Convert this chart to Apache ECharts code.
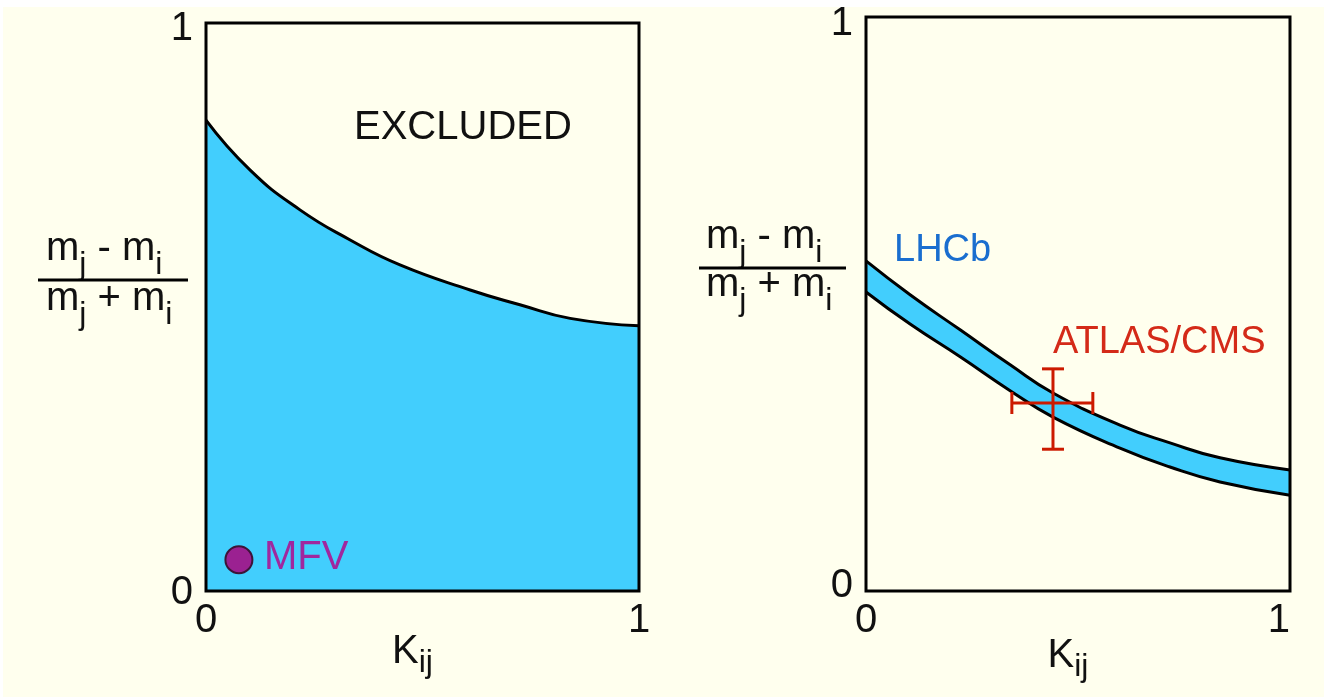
<!DOCTYPE html>
<html>
<head>
<meta charset="utf-8">
<script src="https://cdn.jsdelivr.net/npm/echarts@6/dist/echarts.min.js"></script>
<style>
  html, body { margin: 0; padding: 0; background: #ffffff; }
  #chart { width: 1324px; height: 697px; }
</style>
</head>
<body>
<div id="chart"></div>
<script>
// Left panel: upper bound on the mass splitting as a function of K_ij
const boundK = [0, 0.102, 0.217, 0.333, 0.448, 0.610, 0.725, 0.841, 1];
const boundR = [0.829, 0.741, 0.671, 0.618, 0.574, 0.530, 0.504, 0.480, 0.467];
// Minimal flavour violation point
const mfvPoint = [0.076, 0.055];

// Right panel: LHCb allowed band (upper and lower edges)
const bandK = [0, 0.104, 0.222, 0.340, 0.441, 0.599, 0.717, 0.835, 1];
const bandUpper = [0.575, 0.516, 0.455, 0.394, 0.345, 0.289, 0.258, 0.232, 0.211];
const bandLower = [0.521, 0.465, 0.408, 0.349, 0.303, 0.249, 0.216, 0.190, 0.167];

// ATLAS/CMS measurement: [K, ratio, K low, K high, ratio low, ratio high]
const atlasCms = [0.441, 0.3275, 0.344, 0.535, 0.247, 0.387];

// Tick labels on every axis
const axisTicks = [0, 1];

const FONT = "'Liberation Sans', Arial, Helvetica, sans-serif";
const CYAN = '#42CEFD';
const PAPER = '#FFFFEE';
const INK = '#111111';

const zip = (a, b) => a.map((v, i) => [v, b[i]]);

// Rich-text styles for m_j, m_i and K_ij
const richFrac = {
  m: { fontSize: 40, lineHeight: 46, fontFamily: FONT, fill: INK },
  s: { fontSize: 32, lineHeight: 32, padding: [32, 0, 0, 0], fontFamily: FONT, fill: INK }
};
const richK = {
  k: { fontSize: 40, lineHeight: 46, fontFamily: FONT, color: INK },
  s: { fontSize: 32, lineHeight: 32, padding: [22, 0, 0, 0], fontFamily: FONT, color: INK }
};

function xAxisFor(grid, gap, labelExtra) {
  return {
    gridIndex: grid, type: 'value',
    min: axisTicks[0], max: axisTicks[axisTicks.length - 1], interval: 1,
    axisLine: { show: false }, axisTick: { show: false }, splitLine: { show: false },
    axisLabel: Object.assign({ fontSize: 40, fontFamily: FONT, color: INK, margin: 10 }, labelExtra || {}),
    name: '{k|K}{s|ij}', nameLocation: 'middle', nameGap: gap, nameMoveOverlap: false,
    nameTextStyle: { rich: richK, padding: [0, 20, 0, 0] }
  };
}
// y tick labels: separate nudges for the bottom and the top label
function yAxisFor(grid, padLo, padHi) {
  const tickStyle = { fontSize: 40, fontFamily: FONT, color: INK, lineHeight: 40 };
  return {
    gridIndex: grid, type: 'value',
    min: axisTicks[0], max: axisTicks[axisTicks.length - 1], interval: 1,
    axisLine: { show: false }, axisTick: { show: false }, splitLine: { show: false },
    axisLabel: {
      margin: 13,
      formatter: v => (v === axisTicks[axisTicks.length - 1] ? '{hi|' + v + '}' : '{lo|' + v + '}'),
      rich: {
        lo: Object.assign({ padding: padLo }, tickStyle),
        hi: Object.assign({ padding: padHi }, tickStyle)
      }
    }
  };
}

function renderErrorBar(params, api) {
  const c = api.coord([api.value(0), api.value(1)]);
  const xl = api.coord([api.value(2), api.value(1)]);
  const xh = api.coord([api.value(3), api.value(1)]);
  const yl = api.coord([api.value(0), api.value(4)]);
  const yh = api.coord([api.value(0), api.value(5)]);
  const cap = 11;
  const seg = (x1, y1, x2, y2) => ({
    type: 'line', shape: { x1, y1, x2, y2 },
    style: { stroke: '#CC1A00', lineWidth: 3 }
  });
  return {
    type: 'group',
    children: [
      seg(xl[0], c[1], xh[0], c[1]),
      seg(c[0], yl[1], c[0], yh[1]),
      seg(xl[0], c[1] - cap, xl[0], c[1] + cap),
      seg(xh[0], c[1] - cap, xh[0], c[1] + cap),
      seg(c[0] - cap, yl[1], c[0] + cap, yl[1]),
      seg(c[0] - cap, yh[1], c[0] + cap, yh[1])
    ]
  };
}

function fracText(x, y, str) {
  return {
    type: 'text', x, y, z: 10,
    style: { text: str, rich: richFrac, align: 'left', verticalAlign: 'middle' }
  };
}
function label(x, y, str, color, size) {
  return {
    type: 'text', x, y, z: 10,
    style: { text: str, fontSize: size, fontFamily: FONT, fill: color, verticalAlign: 'middle' }
  };
}

const chart = echarts.init(document.getElementById('chart'), null, { renderer: 'canvas' });

const gridBase = {
  show: true, borderColor: '#000', borderWidth: 3, backgroundColor: 'transparent',
  containLabel: false, outerBoundsMode: 'none', z: 5
};

chart.setOption({
  backgroundColor: '#ffffff',
  animation: false,
  grid: [
    Object.assign({ left: 206, top: 23, width: 433, height: 568 }, gridBase),
    Object.assign({ left: 866, top: 17, width: 424, height: 574 }, gridBase)
  ],
  xAxis: [
    xAxisFor(0, 38),
    xAxisFor(1, 42, { alignMaxLabel: 'right' })
  ],
  yAxis: [
    yAxisFor(0, [4, 0, 0, 0], [12, 0, 0, 0]),
    yAxisFor(1, [0, 0, 10, 0], [14, 0, 0, 0])
  ],
  graphic: [
    { type: 'rect', x: 3, y: 7, z: -100, shape: { width: 1321, height: 690 }, style: { fill: PAPER }, silent: true },
    // left fraction label
    fracText(46, 249, '{m|m}{s|j}{m| - m}{s|i}'),
    { type: 'line', z: 10, shape: { x1: 38, y1: 280, x2: 188, y2: 280 }, style: { stroke: '#000', lineWidth: 3 } },
    fracText(46, 299, '{m|m}{s|j}{m| + m}{s|i}'),
    // right fraction label
    fracText(706, 237, '{m|m}{s|j}{m| - m}{s|i}'),
    { type: 'line', z: 10, shape: { x1: 699, y1: 268, x2: 846, y2: 268 }, style: { stroke: '#000', lineWidth: 3 } },
    fracText(706, 285, '{m|m}{s|j}{m| + m}{s|i}'),
    // annotations
    label(354, 128, 'EXCLUDED', INK, 40),
    label(264, 558, 'MFV', '#A0279E', 40),
    label(894, 251, 'LHCb', '#1A6ECF', 38),
    label(1053, 343, 'ATLAS/CMS', '#D42A18', 38)
  ],
  series: [
    {
      name: 'bound', type: 'line', xAxisIndex: 0, yAxisIndex: 0,
      data: zip(boundK, boundR), smooth: 0.5, symbol: 'none',
      lineStyle: { color: '#000', width: 3 },
      areaStyle: { color: CYAN, opacity: 1, origin: 'start' },
      z: 2
    },
    {
      name: 'MFV', type: 'scatter', xAxisIndex: 0, yAxisIndex: 0,
      data: [mfvPoint], symbolSize: 27,
      itemStyle: { color: '#9B2191', borderColor: '#3D1438', borderWidth: 2, opacity: 1 },
      z: 4
    },
    {
      // upper edge of the band, filled down to the axis
      name: 'LHCb', type: 'line', xAxisIndex: 1, yAxisIndex: 1,
      data: zip(bandK, bandUpper), smooth: 0.5, symbol: 'none',
      lineStyle: { color: '#000', width: 3 },
      areaStyle: { color: CYAN, opacity: 1, origin: 'start' },
      z: 2
    },
    {
      // lower edge of the band, paper fill below it
      name: 'LHCb lower', type: 'line', xAxisIndex: 1, yAxisIndex: 1,
      data: zip(bandK, bandLower), smooth: 0.5, symbol: 'none',
      lineStyle: { color: '#000', width: 3 },
      areaStyle: { color: PAPER, opacity: 1, origin: 'start' },
      z: 3
    },
    {
      name: 'ATLAS/CMS', type: 'custom', xAxisIndex: 1, yAxisIndex: 1,
      data: [atlasCms], renderItem: renderErrorBar,
      encode: { x: 0, y: 1 },
      z: 6
    }
  ]
});
</script>
</body>
</html>
